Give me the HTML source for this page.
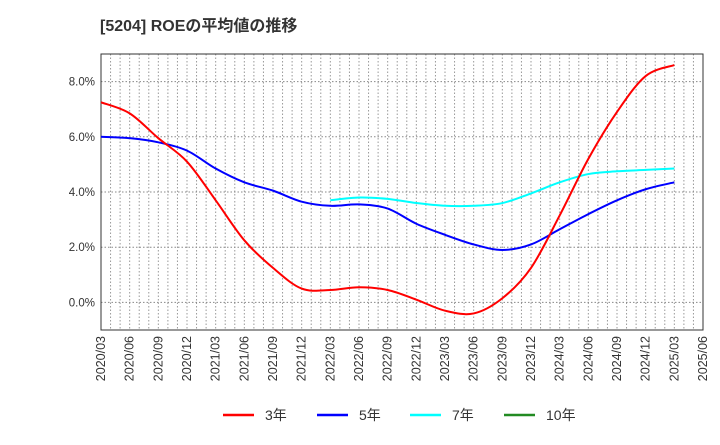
<!DOCTYPE html>
<html><head><meta charset="utf-8"><style>
body{margin:0;background:#fff;font-family:"Liberation Sans","Noto Sans CJK JP",sans-serif;}
</style></head><body>
<svg id="c" width="720" height="440" xmlns="http://www.w3.org/2000/svg">
<text x="100" y="31" font-size="16" font-weight="bold" fill="#333" font-family="Liberation Sans, Noto Sans CJK JP, sans-serif">[5204]  ROEの平均値の推移</text>
<g id="grid"></g><g id="axes"></g><g id="series"></g><g id="legend"></g>
</svg>
<script>
const xLabels=["2020/03","2020/06","2020/09","2020/12","2021/03","2021/06","2021/09","2021/12","2022/03","2022/06","2022/09","2022/12","2023/03","2023/06","2023/09","2023/12","2024/03","2024/06","2024/09","2024/12","2025/03","2025/06"];
const yTicks=[0,2,4,6,8];
const roe3=[7.25,6.85,5.95,5.1,3.7,2.25,1.25,0.5,0.45,0.55,0.45,0.1,-0.3,-0.4,0.15,1.25,3.15,5.2,6.9,8.2,8.6];
const roe5=[6.0,5.95,5.8,5.5,4.85,4.35,4.05,3.65,3.5,3.55,3.4,2.85,2.45,2.1,1.9,2.1,2.65,3.2,3.7,4.1,4.35];
const roe7=[null,null,null,null,null,null,null,null,3.7,3.8,3.75,3.6,3.5,3.5,3.6,3.95,4.35,4.65,4.75,4.8,4.85];
const roe10=[];
const NS="http://www.w3.org/2000/svg";
const L=101,R=703,T=54,B=330,ymin=-1,ymax=9;
const xq=i=>L+(R-L)*i/(xLabels.length-1);
const y=v=>B-(v-ymin)/(ymax-ymin)*(B-T);
function mk(t,a,p){const e=document.createElementNS(NS,t);for(const k in a)e.setAttribute(k,a[k]);p.appendChild(e);return e;}
const grid=document.getElementById('grid'),axes=document.getElementById('axes'),ser=document.getElementById('series'),leg=document.getElementById('legend');
const months=(xLabels.length-1)*3;
for(let m=1;m<months;m++){const x=L+(R-L)*m/months;const l=mk('line',{x1:x,x2:x,y1:T,y2:B,stroke:'#999','stroke-dasharray':'1.5,2','stroke-width':1},grid);

}
yTicks.forEach(v=>{const l=mk('line',{x1:L,x2:R,y1:y(v),y2:y(v),stroke:'#888','stroke-dasharray':'1.5,2','stroke-width':1},grid);


const t=mk('text',{x:L-6,y:y(v)+4,'text-anchor':'end','font-size':11.5,fill:'#333'},axes);t.textContent=v.toFixed(1)+'%';

});
const f=mk('rect',{x:L,y:T,width:R-L,height:B-T,fill:'none',stroke:'#333','stroke-width':1},axes);


xLabels.forEach((s,i)=>{const x=xq(i);const t=mk('text',{x:x+4,y:B+6,'text-anchor':'end','font-size':12.5,fill:'#333',transform:`rotate(-90 ${x+4} ${B+6})`},axes);t.textContent=s;

});
function path(arr){const p=[];arr.forEach((v,i)=>{if(v!=null)p.push([xq(i),y(v)]);});if(p.length<2)return '';
let d=`M${p[0][0]},${p[0][1]}`;for(let i=0;i<p.length-1;i++){const p0=p[i-1]||p[i],p1=p[i],p2=p[i+1],p3=p[i+2]||p2;
d+=` C${p1[0]+(p2[0]-p0[0])/6},${p1[1]+(p2[1]-p0[1])/6} ${p2[0]-(p3[0]-p1[0])/6},${p2[1]-(p3[1]-p1[1])/6} ${p2[0]},${p2[1]}`;}return d;}
[[roe7,'#00ffff','line-7yr'],[roe5,'#0000ff','line-5yr'],[roe3,'#ff0000','line-3yr'],[roe10,'#228b22','line-10yr']].forEach(([a,c,n])=>{const d=path(a);if(!d)return;
const e=mk('path',{d,fill:'none',stroke:c,'stroke-width':2},ser);

});
[['3年','#ff0000',223],['5年','#0000ff',317],['7年','#00ffff',410],['10年','#228b22',504]].forEach(([s,c,x])=>{
const g=mk('g',{},leg);


mk('line',{x1:x,x2:x+31,y1:415,y2:415,stroke:c,'stroke-width':2.5},g);
const t=mk('text',{x:x+42,y:420,'font-size':14,fill:'#333'},g);t.textContent=s;});
</script>
</body></html>
